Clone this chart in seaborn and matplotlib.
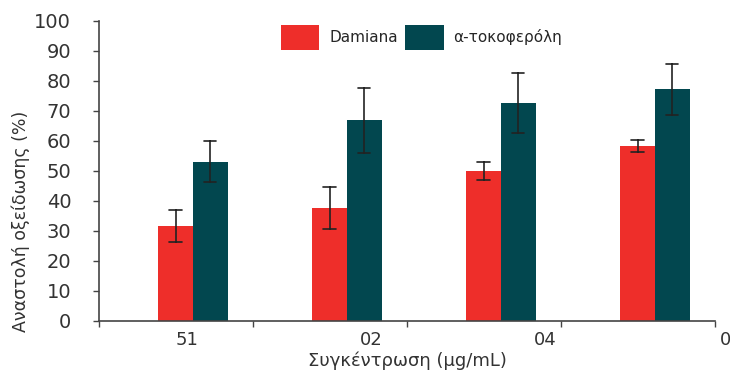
import matplotlib
matplotlib.use("Agg")
import matplotlib.pyplot as plt
import matplotlib.transforms as mtransforms
import seaborn as sns
import pandas as pd

# values
concentrations = ["51", "02", "04", "0"]
series = ["Damiana", "α-τοκοφερόλη"]
damiana_mean = [31.6, 37.6, 50.0, 58.3]
damiana_err = [5.4, 6.9, 3.0, 2.0]
toco_mean = [53.0, 66.8, 72.6, 77.2]
toco_err = [6.8, 10.8, 9.9, 8.5]

colors = ["#EE2E2A", "#02474F"]

# long form: two points per bar so the interval is mean +/- err
rows = []
for name, means, errs in [(series[0], damiana_mean, damiana_err),
                          (series[1], toco_mean, toco_err)]:
    for c, m, e in zip(concentrations, means, errs):
        rows.append({"conc": c, "series": name, "value": m - e})
        rows.append({"conc": c, "series": name, "value": m + e})
df = pd.DataFrame(rows)

sns.set_theme(style="white")
plt.rcParams["font.family"] = ["DejaVu Sans"]

fig = plt.figure(figsize=(7.3, 3.7), dpi=100)
ax = fig.add_axes([99 / 730, 49 / 370, 616 / 730, 300.3 / 370])

sns.barplot(
    data=df, x="conc", y="value", hue="series",
    order=concentrations, hue_order=series, palette=colors,
    estimator="mean", errorbar=lambda v: (v.min(), v.max()),
    width=0.45, saturation=1, capsize=0.16, linewidth=0,
    err_kws={"color": "#222222", "linewidth": 1.2},
    ax=ax,
)

ax.set_ylim(0, 100)
ax.set_yticks(range(0, 101, 10))
ax.xaxis.remove_overlapping_locs = False
ax.set_xticks([-0.61, 0.39, 1.39, 2.39, 3.39])
ax.set_xticklabels([])
ax.set_xticks([-0.04, 1.16, 2.29, 3.39], minor=True)
ax.set_xticklabels(concentrations, minor=True)
ax.set_xlim(-0.61, 3.39)
ax.tick_params(axis="both", which="major", direction="out", length=4,
               width=1, color="#444444", labelcolor="#333333",
               bottom=True, left=True)
ax.tick_params(axis="y", labelsize=14, pad=16)
ax.tick_params(axis="x", which="minor", length=0, pad=7, bottom=True,
               labelsize=13, labelcolor="#333333")

# last label sits past the end of the axis, cut by the figure edge
last = ax.get_xticklabels(minor=True)[-1]
last.set_horizontalalignment("left")
last.set_transform(last.get_transform()
                   + mtransforms.ScaledTranslation(5 / 100, 0, fig.dpi_scale_trans))

sns.despine(ax=ax)
for s in ["left", "bottom"]:
    ax.spines[s].set_color("#444444")
    ax.spines[s].set_linewidth(1.2)

ax.set_xlabel("Συγκέντρωση (μg/mL)", fontsize=13, color="#333333", labelpad=2)
ax.set_ylabel("Αναστολή οξείδωσης (%)", fontsize=12.5, color="#333333")
ax.yaxis.set_label_coords(-0.112, 0.333)

handles, labels = ax.get_legend_handles_labels()
ax.legend(handles, labels, ncol=2, frameon=False, fontsize=11,
          loc="center left", bbox_to_anchor=(281 / 730, 1 - 37.5 / 370),
          bbox_transform=fig.transFigure, borderpad=0, borderaxespad=0,
          handlelength=2.5, handleheight=2.15, handletextpad=0.65,
          columnspacing=0.5)

fig.savefig("out.png", dpi=100)
